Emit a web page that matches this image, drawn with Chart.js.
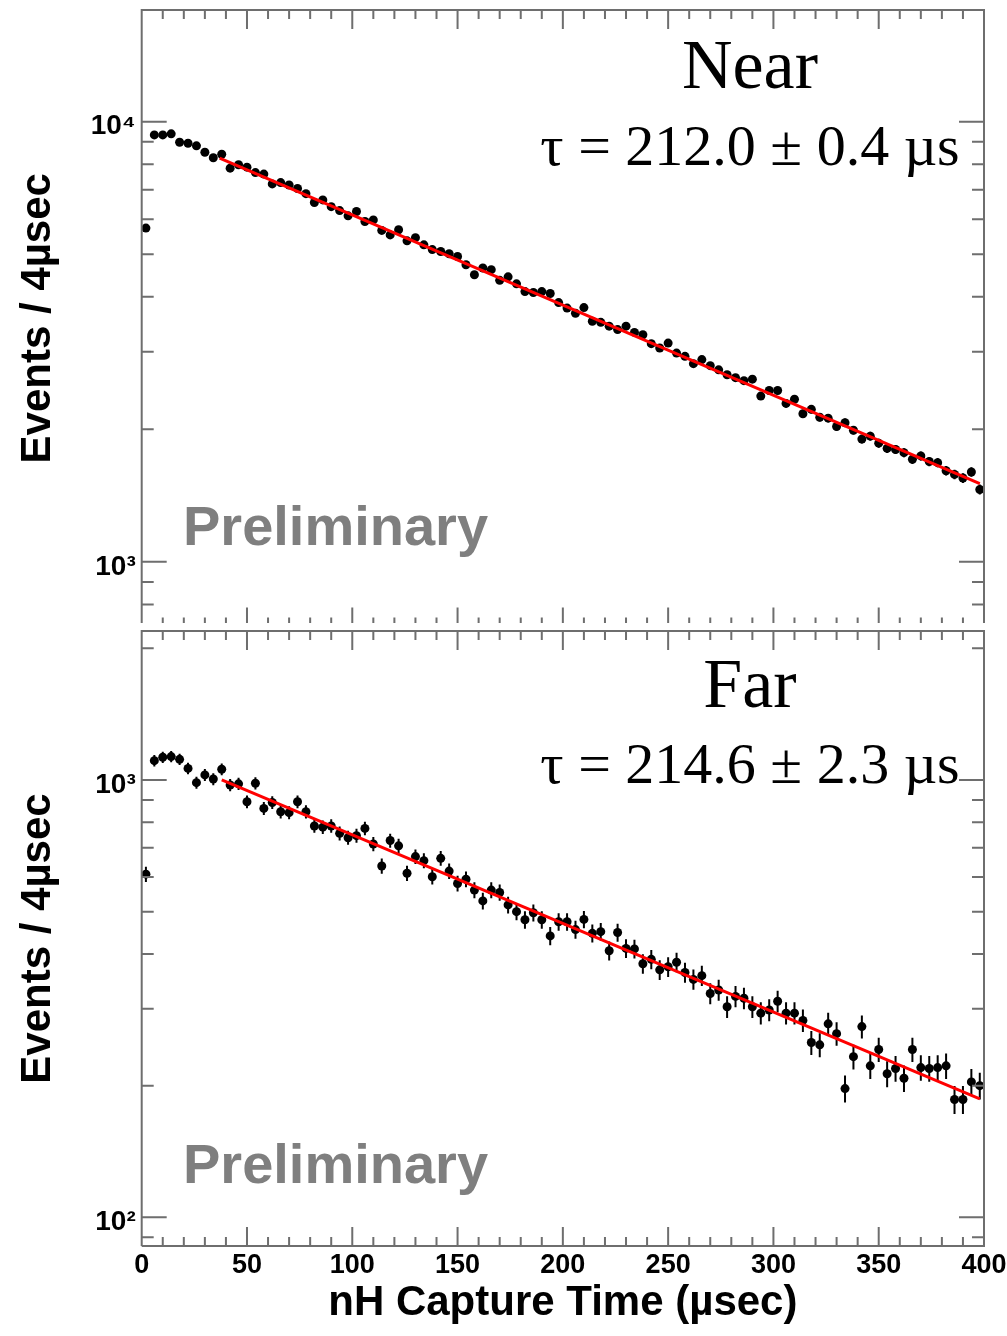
<!DOCTYPE html>
<html lang="en">
<head>
<meta charset="UTF-8">
<title>nH capture time</title>
<script src="https://cdn.jsdelivr.net/npm/chart.js@4"></script>
<style>
  body { margin: 0; background: #fff; }
  .panel { position: absolute; left: 0; width: 1007px; overflow: hidden; }
</style>
</head>
<body>
<div class="panel" style="top:0; height:623px;"><canvas id="near" width="1007" height="631"></canvas></div>
<div class="panel" style="top:623px; height:713px;"><canvas id="far" width="1007" height="713"></canvas></div>

<script>
// bin centres (4 usec bins)
const binCenters = [2, 6, 10, 14, 18, 22, 26, 30, 34, 38, 42, 46, 50, 54, 58, 62, 66, 70, 74, 78,
  82, 86, 90, 94, 98, 102, 106, 110, 114, 118, 122, 126, 130, 134, 138, 142, 146, 150, 154, 158,
  162, 166, 170, 174, 178, 182, 186, 190, 194, 198, 202, 206, 210, 214, 218, 222, 226, 230, 234, 238,
  242, 246, 250, 254, 258, 262, 266, 270, 274, 278, 282, 286, 290, 294, 298, 302, 306, 310, 314, 318,
  322, 326, 330, 334, 338, 342, 346, 350, 354, 358, 362, 366, 370, 374, 378, 382, 386, 390, 394, 398];

const nearCounts = [5730, 9330, 9330, 9380, 8980, 8930, 8810, 8520, 8280, 8430, 7840, 7980, 7880, 7660, 7600, 7220, 7270, 7180, 7050, 6860,
  6550, 6640, 6410, 6280, 6110, 6250, 5930, 5980, 5660, 5530, 5680, 5360, 5450, 5250, 5120, 5070, 5010, 4940, 4730, 4490,
  4650, 4610, 4360, 4440, 4280, 4110, 4090, 4110, 4070, 3880, 3770, 3670, 3780, 3520, 3500, 3430, 3370, 3430, 3320, 3280,
  3130, 3060, 3140, 2980, 2930, 2820, 2880, 2790, 2730, 2660, 2620, 2580, 2600, 2380, 2450, 2450, 2290, 2340, 2170, 2220,
  2130, 2120, 2030, 2070, 1990, 1900, 1930, 1860, 1810, 1800, 1770, 1710, 1740, 1690, 1680, 1610, 1580, 1550, 1600, 1460];

const farCounts = [609, 1107, 1127, 1131, 1115, 1063, 986, 1027, 1005, 1058, 974, 980, 892, 983, 861, 888, 846, 842, 892, 846,
  785, 780, 785, 755, 738, 746, 775, 714, 636, 727, 707, 612, 668, 654, 601, 662, 619, 580, 593, 560,
  529, 560, 553, 518, 500, 479, 497, 479, 440, 474, 474, 455, 480, 446, 450, 407, 448, 412, 411, 380,
  389, 368, 374, 383, 363, 350, 357, 325, 331, 303, 320, 317, 303, 293, 298, 312, 293, 293, 282, 251,
  248, 277, 263, 197, 233, 273, 222, 242, 213, 219, 208, 242, 220, 219, 220, 222, 186, 186, 204, 200];

// fitted exponential, end points
const nearFitT = [37, 398];
const nearFitN = [8260, 1505];
const farFitT = [38, 398];
const farFitN = [1000, 186.5];

const xTicks = [0, 10, 20, 30, 40, 50, 60, 70, 80, 90, 100, 110, 120, 130, 140, 150, 160, 170, 180, 190, 200,
  210, 220, 230, 240, 250, 260, 270, 280, 290, 300, 310, 320, 330, 340, 350, 360, 370, 380, 390, 400];
const xLabels = [0, 50, 100, 150, 200, 250, 300, 350, 400];
const nearYTicks = [800, 900, 1000, 2000, 3000, 4000, 5000, 6000, 7000, 8000, 9000, 10000];
const farYTicks = [90, 100, 200, 300, 400, 500, 600, 700, 800, 900, 1000, 2000];
const yLabels = {100: '10²', 1000: '10³', 10000: '10⁴'};

const FRAME = '#6e6e6e';
const SANS = "'Liberation Sans', Arial, sans-serif";
const SERIF = "'Liberation Serif', 'Times New Roman', serif";

const rootFrame = {
  id: 'rootFrame',
  beforeDatasetsDraw(chart) {
    // poisson error bars under the markers
    const {ctx, scales: {x, y}} = chart;
    const pts = chart.data.datasets[1].data;
    ctx.save();
    ctx.strokeStyle = '#000';
    ctx.lineWidth = 2;
    ctx.beginPath();
    pts.forEach(p => {
      const e = Math.sqrt(p.y);
      const px = x.getPixelForValue(p.x);
      ctx.moveTo(px, y.getPixelForValue(p.y - e));
      ctx.lineTo(px, y.getPixelForValue(p.y + e));
    });
    ctx.stroke();
    ctx.restore();
  },
  afterDraw(chart, args, opts) {
    const {ctx, chartArea: a, scales: {x, y}} = chart;
    ctx.save();
    ctx.strokeStyle = FRAME;
    ctx.lineWidth = 2;
    ctx.beginPath();
    ctx.moveTo(a.left, a.bottom);
    ctx.lineTo(a.left, a.top);
    ctx.lineTo(a.right, a.top);
    ctx.lineTo(a.right, a.bottom);
    ctx.lineTo(a.left, a.bottom);
    xTicks.forEach(v => {
      const len = v % 50 === 0 ? 19 : 9;
      const px = x.getPixelForValue(v);
      ctx.moveTo(px, a.top); ctx.lineTo(px, a.top + len);
      ctx.moveTo(px, a.bottom); ctx.lineTo(px, a.bottom - len);
    });
    opts.yTicks.forEach(v => {
      const len = yLabels[v] ? 25 : 12;
      const py = y.getPixelForValue(v);
      ctx.moveTo(a.left, py); ctx.lineTo(a.left + len, py);
      ctx.moveTo(a.right, py); ctx.lineTo(a.right - len, py);
    });
    ctx.stroke();

    ctx.fillStyle = '#000';
    ctx.textAlign = 'center';
    ctx.textBaseline = 'alphabetic';
    ctx.font = '70px ' + SERIF;
    ctx.fillText(opts.label, 750, opts.labelY);
    ctx.font = '58px ' + SERIF;
    ctx.fillText(opts.tau, 750, opts.tauY);
    ctx.fillStyle = '#7f7f7f';
    ctx.textAlign = 'left';
    ctx.font = 'bold 56px ' + SANS;
    ctx.fillText('Preliminary', 183, opts.prelimY);
    ctx.restore();
  }
};

function makeChart(id, counts, fitT, fitN, yMin, yMax, yTicks, showX, anno) {
  const tickFont = {family: SANS, weight: 'bold', size: 28};
  const titleFont = {family: SANS, weight: 'bold', size: 42};
  return new Chart(document.getElementById(id), {
    type: 'scatter',
    data: {
      datasets: [
        {
          data: fitT.map((t, i) => ({x: t, y: fitN[i]})),
          showLine: true,
          borderColor: '#ff0000',
          borderWidth: 3,
          pointRadius: 0,
          order: 0
        },
        {
          data: binCenters.map((t, i) => ({x: t, y: counts[i]})),
          backgroundColor: '#000',
          borderWidth: 0,
          pointRadius: 4.5,
          order: 1
        }
      ]
    },
    options: {
      responsive: false,
      animation: false,
      devicePixelRatio: 1,
      layout: {padding: {top: showX ? 8 : 10, right: 23, bottom: showX ? 0 : 4, left: 0}},
      scales: {
        x: {
          type: 'linear',
          min: 0,
          max: 400,
          display: showX,
          afterBuildTicks: s => { s.ticks = xLabels.map(v => ({value: v})); },
          afterFit: s => {
            s.height = showX ? 90 : 0;
            s.paddingLeft = 0;
            s.paddingRight = 0;
          },
          grid: {display: false, drawTicks: false},
          border: {display: false},
          ticks: {autoSkip: false, maxRotation: 0, padding: 3, color: '#000', font: {family: SANS, weight: 'bold', size: 27}},
          title: {display: true, text: 'nH Capture Time (µsec)', color: '#000', font: titleFont,
                  padding: {top: 0, bottom: 7}}
        },
        y: {
          type: 'logarithmic',
          min: yMin,
          max: yMax,
          afterBuildTicks: s => { s.ticks = yTicks.map(v => ({value: v})); },
          afterFit: s => {
            s.width = 141.7;
            s.paddingTop = 0;
            s.paddingBottom = 0;
          },
          grid: {display: false, drawTicks: false},
          border: {display: false},
          ticks: {autoSkip: false, padding: 6, labelOffset: 5, color: '#000', font: tickFont,
                  callback: v => yLabels[v] || ''},
          title: {display: true, text: 'Events / 4µsec', color: '#000', font: titleFont,
                  padding: {top: 13, bottom: 0}}
        }
      },
      plugins: {
        legend: {display: false},
        tooltip: {enabled: false},
        rootFrame: Object.assign({yTicks: yTicks}, anno)
      }
    },
    plugins: [rootFrame]
  });
}

makeChart('near', nearCounts, nearFitT, nearFitN, 713, 17930, nearYTicks, false,
  {label: 'Near', labelY: 88, tau: 'τ = 212.0 ± 0.4 µs', tauY: 165, prelimY: 545});
makeChart('far', farCounts, farFitT, farFitN, 86, 2191, farYTicks, true,
  {label: 'Far', labelY: 84, tau: 'τ = 214.6 ± 2.3 µs', tauY: 160, prelimY: 560});
</script>
</body>
</html>
